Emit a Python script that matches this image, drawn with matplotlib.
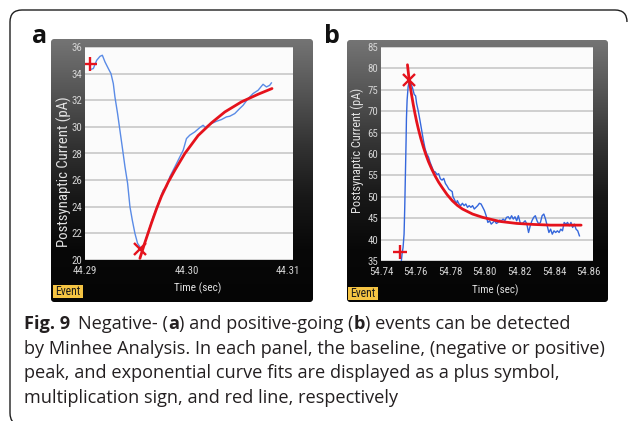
import numpy as np
import matplotlib
matplotlib.use("Agg")
import matplotlib.pyplot as plt
from matplotlib import font_manager
from matplotlib.colors import LinearSegmentedColormap
from matplotlib.patches import FancyBboxPatch, Rectangle, PathPatch
from matplotlib.path import Path

# ---------------- data : panel a (negative-going event) ----------------
a_time = [44.29049, 44.29082, 44.29115, 44.29148, 44.29171, 44.29197, 44.29230, 44.29256,
          44.29279, 44.29295, 44.29321, 44.29344, 44.29367, 44.29394, 44.29420, 44.29443,
          44.29466, 44.29492, 44.29518, 44.29551, 44.29574, 44.29597, 44.29630, 44.29672,
          44.29722, 44.29771, 44.29804, 44.29836, 44.29886, 44.29935, 44.29968, 44.30000,
          44.30033, 44.30082, 44.30132, 44.30164, 44.30187, 44.30214, 44.30246, 44.30296,
          44.30345, 44.30394, 44.30427, 44.30476, 44.30525, 44.30558, 44.30607, 44.30656,
          44.30706, 44.30755, 44.30788, 44.30820, 44.30837]
a_current = [34.30, 34.38, 35.00, 35.30, 35.38, 34.88, 34.38, 34.00,
             33.25, 32.25, 31.00, 29.75, 28.50, 27.00, 25.75, 24.00,
             23.00, 22.00, 21.25, 20.88, 21.00, 21.50, 22.25, 23.25,
             24.25, 25.25, 25.50, 26.25, 27.00, 27.75, 28.25, 29.12,
             29.38, 29.62, 29.95, 30.12, 29.95, 30.12, 30.25, 30.42,
             30.55, 30.75, 30.80, 31.00, 31.38, 31.62, 32.12, 32.50,
             32.75, 33.20, 33.00, 33.12, 33.30]
a_fit_time = [44.29541, 44.29590, 44.29656, 44.29705, 44.29754, 44.29820, 44.29886, 44.29984,
              44.30115, 44.30246, 44.30378, 44.30542, 44.30706, 44.30843]
a_fit_current = [20.12, 21.30, 22.80, 23.85, 24.80, 25.85, 26.75, 28.00,
                 29.35, 30.30, 31.12, 31.88, 32.45, 32.88]
a_baseline = (44.29049, 34.70)
a_peak = (44.29541, 20.80)
a_xlim = (44.29, 44.3105)
a_ylim = (20, 36)
a_xticks = [44.29, 44.30, 44.31]
a_xticklabels = ["44.29", "44.30", "44.31"]
a_yticks = [20, 22, 24, 26, 28, 30, 32, 34, 36]

# ---------------- data : panel b (positive-going event) ----------------
b_time = [54.75176, 54.75215, 54.75274, 54.75333, 54.75372, 54.75411, 54.75450, 54.75470,
          54.75509, 54.75568, 54.75627, 54.75725, 54.75823, 54.75921, 54.75999, 54.76058,
          54.76156, 54.76254, 54.76352, 54.76450, 54.76548, 54.76646, 54.76744, 54.76842,
          54.76940, 54.77038, 54.77136, 54.77234, 54.77332, 54.77430, 54.77528, 54.77626,
          54.77724, 54.77822, 54.77920, 54.78018, 54.78116, 54.78155, 54.78273, 54.78351,
          54.78410, 54.78508, 54.78606, 54.78704, 54.78802, 54.78900, 54.78998, 54.79096,
          54.79194, 54.79292, 54.79390, 54.79488, 54.79586, 54.79684, 54.79782, 54.79880,
          54.79978, 54.80076, 54.80174, 54.80272, 54.80370, 54.80468, 54.80566, 54.80664,
          54.80762, 54.80860, 54.80958, 54.81056, 54.81154, 54.81252, 54.81350, 54.81448,
          54.81546, 54.81644, 54.81742, 54.81840, 54.81938, 54.82036, 54.82134, 54.82232,
          54.82330, 54.82428, 54.82526, 54.82624, 54.82722, 54.82820, 54.82918, 54.83016,
          54.83114, 54.83212, 54.83310, 54.83408, 54.83506, 54.83604, 54.83702, 54.83800,
          54.83898, 54.83996, 54.84094, 54.84192, 54.84290, 54.84388, 54.84486, 54.84584,
          54.84682, 54.84780, 54.84878, 54.84976, 54.85074, 54.85172, 54.85270, 54.85368,
          54.85466]
b_current = [35.00, 36.57, 38.13, 41.27, 47.54, 55.38, 63.21, 68.31,
             72.62, 75.75, 76.93, 76.54, 75.40, 73.90, 73.60, 71.80,
             70.00, 67.80, 65.50, 63.20, 61.20, 60.00, 59.30, 58.00,
             57.00, 56.00, 55.80, 55.20, 55.40, 54.20, 53.90, 54.30,
             53.10, 52.50, 51.80, 51.50, 51.20, 50.10, 49.11, 48.32,
             49.11, 48.32, 47.93, 48.48, 47.93, 48.32, 47.54, 47.93,
             47.54, 47.93, 47.15, 47.54, 47.93, 48.48, 48.32, 47.54,
             46.76, 45.58, 44.01, 44.40, 43.62, 44.01, 44.40, 43.78,
             44.01, 44.56, 44.40, 44.80, 44.40, 45.19, 45.34, 44.80,
             45.58, 44.80, 45.34, 44.40, 45.58, 44.01, 43.62, 44.01,
             44.40, 43.62, 41.66, 43.23, 44.40, 45.19, 45.58, 44.40,
             43.62, 44.01, 45.58, 45.97, 44.80, 43.23, 41.66, 42.44,
             41.27, 42.05, 41.66, 42.05, 41.66, 42.44, 42.05, 44.01,
             43.62, 44.01, 43.23, 44.01, 42.84, 43.62, 42.44, 42.05,
             40.88]
b_fit_time = [54.75529, 54.75627, 54.75764, 54.75862, 54.75960, 54.76058, 54.76156, 54.76303,
              54.76450, 54.76597, 54.76744, 54.76940, 54.77136, 54.77332, 54.77528, 54.77822,
              54.78116, 54.78410, 54.78704, 54.79292, 54.79880, 54.80860, 54.81840, 54.82820,
              54.83800, 54.84780, 54.85564]
b_fit_current = [80.85, 77.30, 73.90, 71.60, 69.50, 67.60, 65.90, 63.60,
                 61.60, 59.80, 58.20, 56.40, 54.80, 53.40, 52.20, 50.50,
                 49.10, 48.00, 47.15, 45.97, 45.19, 44.25, 43.78, 43.54,
                 43.38, 43.38, 43.38]
b_baseline = (54.7509, 37.0)
b_peak = (54.7562, 77.3)
b_xlim = (54.74, 54.8625)
b_ylim = (35, 85)
b_xticks = [54.74, 54.76, 54.78, 54.80, 54.82, 54.84, 54.86]
b_xticklabels = ["54.74", "54.76", "54.78", "54.80", "54.82", "54.84", "54.86"]
b_yticks = [35, 40, 45, 50, 55, 60, 65, 70, 75, 80, 85]

# ---------------- text ----------------
y_label = "Postsynaptic Current (pA)"
x_label = "Time (sec)"
event_label = "Event"
panel_letters = ["a", "b"]
caption_lines = [
    [("Fig. 9", "bold"), (None, 1.7), ("Negative- (", "normal"), ("a", "bold"),
     (") and positive-going (", "normal"), ("b", "bold"), (") events can be detected", "normal")],
    [("by Minhee Analysis. In each panel, the baseline, (negative or positive)", "normal")],
    [("peak, and exponential curve fits are displayed as a plus symbol,", "normal")],
    [("multiplication sign, and red line, respectively", "normal")],
]

# ---------------- layout helpers ----------------
W, H = 630, 421
fig = plt.figure(figsize=(W / 100, H / 100), dpi=100)
fig.patch.set_facecolor("white")
renderer = fig.canvas.get_renderer()

avail = {f.name for f in font_manager.fontManager.ttflist}
UI = "Open Sans"
for cand in ["Liberation Sans Narrow", "Roboto Condensed", "Roboto"]:
    if cand in avail:
        UI = cand
        break
CAP = "Open Sans" if "Open Sans" in avail else "DejaVu Sans"
plt.rcParams["font.family"] = [UI, "DejaVu Sans"]


def rect(l, t, r, b):
    return [l / W, 1 - b / H, (r - l) / W, (b - t) / H]


def pt(x, y):
    return (x / W, 1 - y / H)


def tw(s, size, family, weight="normal"):
    t = fig.text(0, 0, s, fontsize=size, family=family, fontweight=weight)
    w = t.get_window_extent(renderer).width
    t.remove()
    return w


def fit(s, family, target, weight="normal"):
    return 10.0 * target / tw(s, 10, family, weight)


# outer rounded frame (top and left sides)
verts = [pt(627, 22), pt(627, 10), pt(615, 10), pt(22, 10), pt(10, 10), pt(10, 22),
         pt(10, 413), pt(10, 425), pt(22, 425)]
codes = [Path.MOVETO, Path.CURVE3, Path.CURVE3, Path.LINETO, Path.CURVE3, Path.CURVE3,
         Path.LINETO, Path.CURVE3, Path.CURVE3]
fig.add_artist(PathPatch(Path(verts, codes), transform=fig.transFigure, fill=False,
                         lw=1.0, ec="#1e1e1e"))

frame_cmap = LinearSegmentedColormap.from_list(
    "fr", ["#747474", "#555555", "#333333", "#181818", "#080808", "#050505"])


def frame(l, t, r, b):
    fa = fig.add_axes(rect(l, t, r, b), zorder=0)
    fa.set_axis_off()
    grad = np.linspace(0, 1, 256)[:, None]
    im = fa.imshow(grad, aspect="auto", cmap=frame_cmap, extent=(0, 1, 0, 1),
                   origin="upper", interpolation="bilinear")
    fa.set_xlim(0, 1)
    fa.set_ylim(0, 1)
    clip = FancyBboxPatch((0, 0), 1, 1, boxstyle="round,pad=0,rounding_size=0.012",
                          transform=fa.transAxes, fc="none", ec="none")
    fa.add_patch(clip)
    im.set_clip_path(clip)


tick_size = 7.8
ev_size = fit(event_label, UI, 25)
RED = "#e5121c"


def panel(box, t, v, ft, fv, base, peak, xlim, ylim, xticks, xtl, yticks, blue):
    ax = fig.add_axes(rect(*box), zorder=1)
    ax.set_facecolor("#fbfbfb")
    ax.plot(t, v, color=blue, lw=1.0, zorder=3)
    ax.plot(ft, fv, color=RED, lw=2.0, zorder=4, solid_capstyle="round")
    ax.plot([base[0]], [base[1]], marker="+", ms=10, mew=1.7, color=RED, zorder=5)
    ax.plot([peak[0]], [peak[1]], marker="x", ms=8, mew=1.7, color=RED, zorder=5)
    ax.set_xlim(*xlim)
    ax.set_ylim(*ylim)
    ax.set_xticks(xticks)
    ax.set_xticklabels(xtl)
    ax.set_yticks(yticks)
    ax.set_yticklabels([str(y) for y in yticks])
    ax.yaxis.grid(True, color="#cfcfcf", lw=1.4)
    ax.xaxis.grid(False)
    ax.set_axisbelow(True)
    for s in ax.spines.values():
        s.set_visible(False)
    ax.tick_params(axis="both", length=0, labelcolor="#d4d4d4", labelsize=tick_size)
    ax.tick_params(axis="x", pad=4)
    ax.tick_params(axis="y", pad=2)
    for lab in ax.get_xticklabels() + ax.get_yticklabels():
        lab.set_family(UI)
    return ax


def event_box(l, t, r, b):
    fig.add_artist(Rectangle(pt(l, b), (r - l) / W, (b - t) / H, transform=fig.transFigure,
                             fc="#f5c443", ec="none", zorder=5))
    fig.text((l + r) / 2 / W, 1 - (t + b) / 2 / H, event_label, ha="center", va="center",
             fontsize=ev_size, color="#1a1a1a", zorder=6, family=UI)


# ---- panel a ----
frame(51, 39, 313, 302)
panel((85, 47, 293, 260), a_time, a_current, a_fit_time, a_fit_current, a_baseline, a_peak,
      a_xlim, a_ylim, a_xticks, a_xticklabels, a_yticks, "#5a8be6")
fig.text(64 / W, 1 - 172 / H, y_label, rotation=90, ha="center", va="center",
         fontsize=fit(y_label, UI, 150), color="#e2e2e2", family=UI)
fig.text(198 / W, 1 - 288 / H, x_label, ha="center", va="center",
         fontsize=fit(x_label, UI, 47), color="#e2e2e2", family=UI)
event_box(53, 285, 83, 298)

# ---- panel b ----
frame(347, 40, 608, 302)
panel((381, 47, 593, 261), b_time, b_current, b_fit_time, b_fit_current, b_baseline, b_peak,
      b_xlim, b_ylim, b_xticks, b_xticklabels, b_yticks, "#3567dc")
fig.text(357 / W, 1 - 150 / H, y_label, rotation=90, ha="center", va="center",
         fontsize=fit(y_label, UI, 124), color="#e2e2e2", family=UI)
fig.text(495 / W, 1 - 290 / H, x_label, ha="center", va="center",
         fontsize=fit(x_label, UI, 46), color="#e2e2e2", family=UI)
event_box(348, 287, 378, 300)

# ---- panel letters ----
fig.text(40 / W, 1 - 43 / H, panel_letters[0], ha="center", va="baseline", fontsize=18,
         fontweight="bold", family=CAP, color="#111111")
fig.text(332 / W, 1 - 43 / H, panel_letters[1], ha="center", va="baseline", fontsize=18,
         fontweight="bold", family=CAP, color="#111111")

# ---- caption ----
cap_size = fit(caption_lines[1][0][0], CAP, 583)
space_w = tw("a a", cap_size, CAP) - tw("aa", cap_size, CAP)
baselines = [329, 354, 378, 403]
x0 = 24
for runs, yb in zip(caption_lines, baselines):
    x = x0
    for txt, style in runs:
        if txt is None:
            x += style * space_w
            continue
        t = fig.text(x / W, 1 - yb / H, txt, ha="left", va="baseline", fontsize=cap_size,
                     fontweight=style, family=CAP, color="#231f20")
        x += t.get_window_extent(renderer).width

fig.savefig("out.png", dpi=100, facecolor="white")
